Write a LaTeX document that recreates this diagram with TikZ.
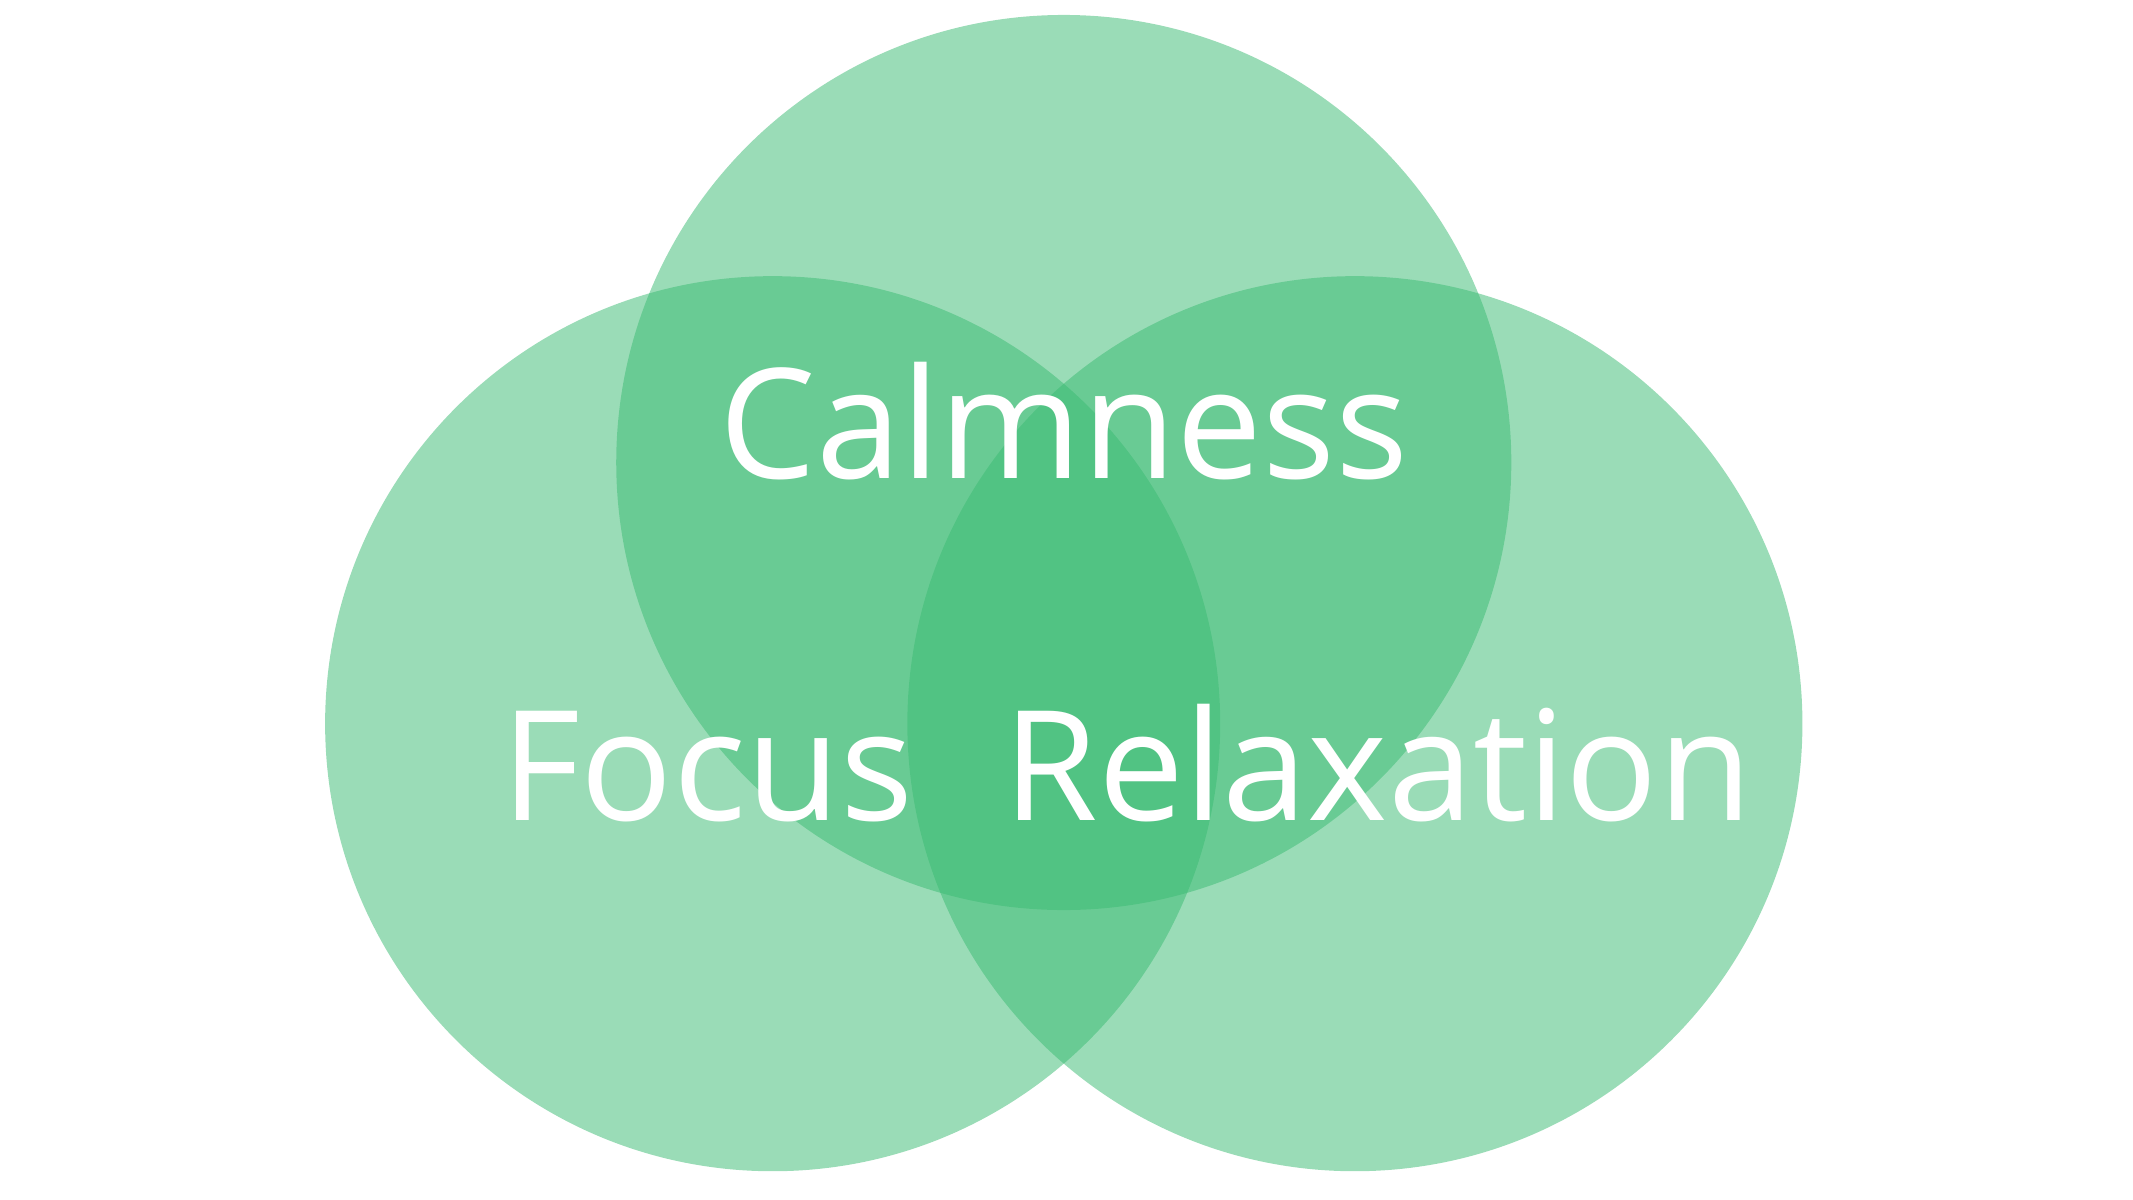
\documentclass[tikz,border=0pt]{standalone}
\usepackage{fontspec}
\setmainfont{Open Sans}
\definecolor{venn}{RGB}{59,187,115}
\begin{document}
\begin{tikzpicture}[x=0.01cm,y=-0.01cm,
  circ/.style={fill=venn,fill opacity=0.515},
  lbl/.style={text=white,font=\fontsize{32}{38}\selectfont,anchor=base,inner sep=0}]
\useasboundingbox (0,0) rectangle (1568,882);
\fill[circ] (782,340) circle (329);
\fill[circ] (568,532) circle (329);
\fill[circ] (996,532) circle (329);
\node[lbl] (calm) at (782,352) {Calmness};
\node[lbl] (focus) at (520,603) {Focus};
\node[lbl] (relax) at (1013,603) {Relaxation};
\end{tikzpicture}
\end{document}
